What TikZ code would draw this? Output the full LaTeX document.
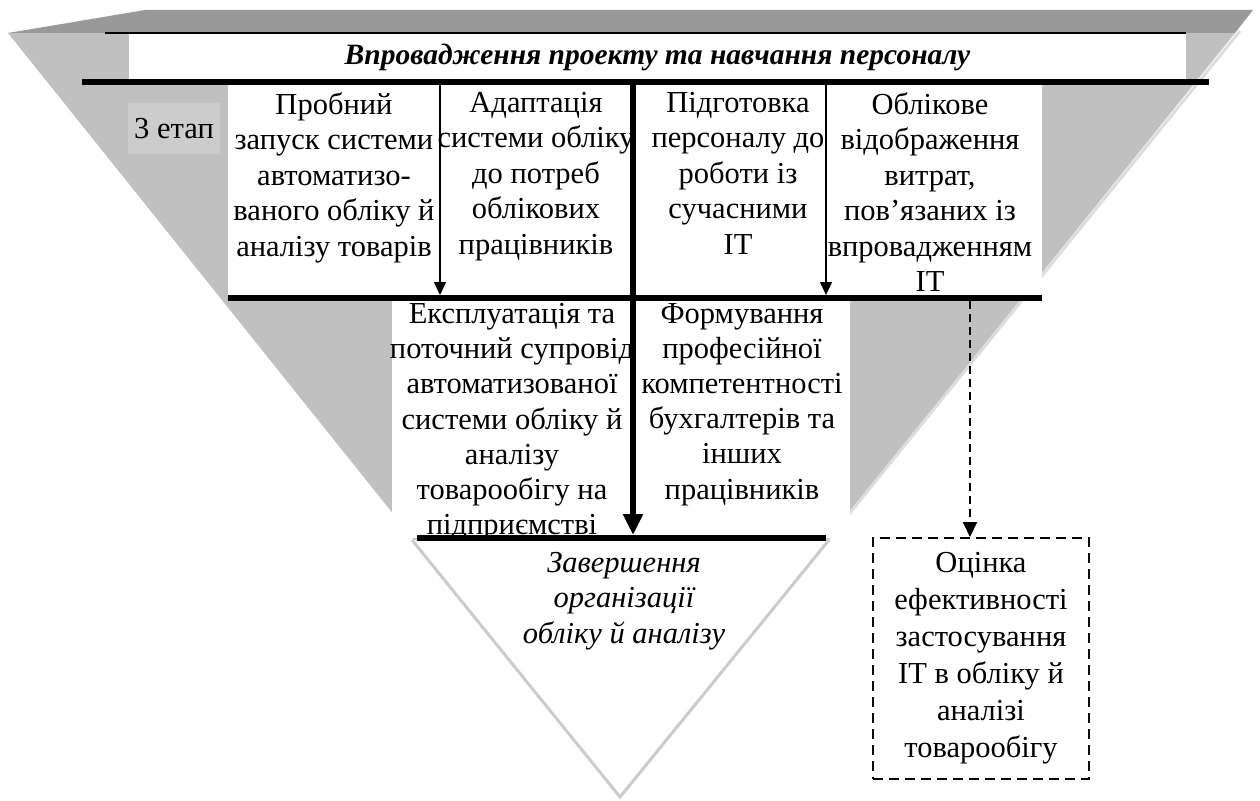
\documentclass[tikz,border=0pt]{standalone}
\usepackage{fontspec}
\setmainfont{Liberation Serif}
\usetikzlibrary{arrows.meta}
\definecolor{trigray}{HTML}{C0C0C0}
\definecolor{topgray}{HTML}{999999}
\definecolor{labgray}{HTML}{CCCCCC}
\definecolor{edgegray}{HTML}{DDDDDD}
\tikzset{
  txt/.style={align=center, inner sep=0pt, font=\fontsize{30.5}{35.5}\selectfont},
  heavy/.style={line width=6pt},
  thinarr/.style={line width=1.5pt, -{Triangle[length=13pt,width=12pt]}},
  boldarr/.style={line width=6pt, -{Triangle[length=21pt,width=19pt]}},
  dasharr/.style={line width=2pt, dash pattern=on 8pt off 5pt, -{Triangle[length=15pt,width=14pt]}},
}

\begin{document}
\begin{tikzpicture}[x=1pt,y=-1pt]
        \useasboundingbox (0,0) rectangle (1260,800);
        \coordinate (L) at (8,33);
        \coordinate (R) at (1235,33);
        \coordinate (V) at (620,797);
        % pyramid
        \fill[trigray] (L) -- (R) -- (V) -- cycle;
        \draw[edgegray, line width=3pt] (1240,31) -- (V);
        \fill[topgray] (L) -- (145,10) -- (1253,10) -- (R) -- cycle;
        % white fields
        \fill[white] (129,34) rectangle (1186,80);
        \fill[white] (228,84) rectangle (1042,297);
        \fill[white] (392,300) rectangle (850,538);
        \fill[white] (414,540) -- (827,540) -- (V) -- cycle;
        \draw[gray!40, line width=3pt] (412,540) -- (V) -- (829,540);
        \node[txt, fill=labgray, minimum width=92, minimum height=51] (etap) at (174,128.5) {3 етап};
        % lines
        \draw[line width=1.5pt] (105,33) -- (1186,33);
        \draw[heavy] (82,82) -- (1209,82);
        \draw[heavy] (228,298) -- (1042,298);
        \draw[heavy] (417,538) -- (826,538);
        \coordinate (a1) at (440,84);
        \coordinate (a2) at (826,84);
        \coordinate (a3) at (633,82);
        \coordinate (a4) at (970,301);
        \draw[thinarr] (a1) -- (440,295);
        \draw[thinarr] (a2) -- (826,295);
        \draw[boldarr] (a3) -- (633,535);
        % texts
        \node[txt, font=\fontsize{29.5}{35.5}\selectfont\bfseries\itshape] (title) at (657.5,57) {Впровадження проекту та навчання персоналу};
        \node[txt, anchor=north] (b1) at (334,92) {Пробний\\ запуск системи\\ автоматизо-\\ ваного обліку й\\ аналізу товарів};
        \node[txt, anchor=north] (b2) at (536,92) {Адаптація\\ системи обліку\\ до потреб\\ облікових\\ працівників};
        \node[txt, anchor=north] (b3) at (738,92) {Підготовка\\ персоналу до\\ роботи із\\ сучасними\\ ІТ};
        \node[txt, anchor=north] (b4) at (930,92) {Облікове\\ відображення\\ витрат,\\ пов’язаних із\\ впровадженням\\ ІТ};
        \node[txt, anchor=north, font=\fontsize{30.5}{35.2}\selectfont] (b5) at (512,303) {Експлуатація та\\ поточний супровід\\ автоматизованої\\ системи обліку й\\ аналізу\\ товарообігу на\\ підприємстві};
        \node[txt, anchor=north, font=\fontsize{30.5}{35.2}\selectfont] (b6) at (742,303) {Формування\\ професійної\\ компетентності\\ бухгалтерів та\\ інших\\ працівників};
        \node[txt, anchor=north, font=\fontsize{30.5}{35.5}\selectfont\itshape] (fin) at (624,552) {Завершення\\ організації\\ обліку й аналізу};
        \node[txt, font=\fontsize{30.5}{37}\selectfont, draw, line width=2pt, dash pattern=on 10pt off 6pt, minimum width=216, minimum height=241] (ocin) at (981,658.5) {Оцінка\\ ефективності\\ застосування\\ ІТ в обліку й\\ аналізі\\ товарообігу};
        \draw[dasharr] (a4) -- (a4 |- ocin.north);
    \end{tikzpicture}
\end{document}
